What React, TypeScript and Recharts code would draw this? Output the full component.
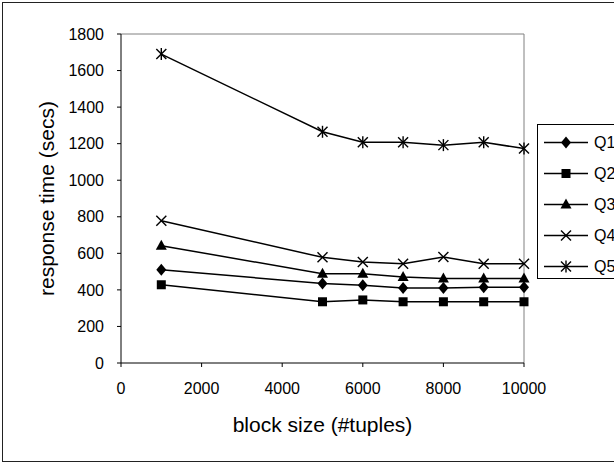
import { LineChart, Line, XAxis, YAxis, ReferenceLine, Legend } from "recharts";

const blockSizes = [1000, 5000, 6000, 7000, 8000, 9000, 10000];
const q1Times = [510, 435, 425, 410, 410, 415, 415];
const q2Times = [428, 335, 345, 335, 335, 335, 335];
const q3Times = [642, 488, 488, 470, 462, 462, 462];
const q4Times = [778, 578, 553, 543, 580, 543, 543];
const q5Times = [1690, 1265, 1208, 1208, 1192, 1208, 1173];

const xTicks = [0, 2000, 4000, 6000, 8000, 10000];
const yTicks = [0, 200, 400, 600, 800, 1000, 1200, 1400, 1600, 1800];

type Shape = "diamond" | "square" | "triangle" | "cross" | "asterisk";

const series: { key: string; name: string; values: number[]; shape: Shape }[] = [
  { key: "q1", name: "Q1", values: q1Times, shape: "diamond" },
  { key: "q2", name: "Q2", values: q2Times, shape: "square" },
  { key: "q3", name: "Q3", values: q3Times, shape: "triangle" },
  { key: "q4", name: "Q4", values: q4Times, shape: "cross" },
  { key: "q5", name: "Q5", values: q5Times, shape: "asterisk" },
];

const data = blockSizes.map((b, i) => {
  const row: Record<string, number> = { blockSize: b };
  series.forEach((s) => (row[s.key] = s.values[i]));
  return row;
});

const FONT = "'Liberation Sans', Arial, sans-serif";

const SeriesMarker = ({ shape, cx, cy }: { shape: Shape; cx: number; cy: number }) => {
  if (cx == null || cy == null) return null;
  switch (shape) {
    case "diamond":
      return <polygon points={`${cx},${cy - 6} ${cx + 5},${cy} ${cx},${cy + 6} ${cx - 5},${cy}`} fill="#000" />;
    case "square":
      return <rect x={cx - 4.5} y={cy - 4.5} width={9} height={9} fill="#000" />;
    case "triangle":
      return <polygon points={`${cx},${cy - 6} ${cx + 5.5},${cy + 4} ${cx - 5.5},${cy + 4}`} fill="#000" />;
    case "cross":
      return (
        <g stroke="#000" strokeWidth={1.4}>
          <line x1={cx - 5} y1={cy - 5} x2={cx + 5} y2={cy + 5} />
          <line x1={cx - 5} y1={cy + 5} x2={cx + 5} y2={cy - 5} />
        </g>
      );
    default:
      return (
        <g stroke="#000" strokeWidth={1.4}>
          <line x1={cx - 5} y1={cy - 5} x2={cx + 5} y2={cy + 5} />
          <line x1={cx - 5} y1={cy + 5} x2={cx + 5} y2={cy - 5} />
          <line x1={cx} y1={cy - 6} x2={cx} y2={cy + 6} />
        </g>
      );
  }
};

// legend box runs past the right edge of the picture, like the original
const LegendBox = () => (
  <div
    style={{
      width: 110,
      height: 155,
      boxSizing: "border-box",
      border: "1px solid #000",
      background: "#fff",
      paddingTop: 2,
    }}
  >
    {series.map((s) => (
      <div key={s.key} style={{ height: 31, display: "flex", alignItems: "center" }}>
        <svg width={52} height={31} style={{ display: "block" }}>
          <line x1={6} y1={15.5} x2={50} y2={15.5} stroke="#000" strokeWidth={1.5} />
          <SeriesMarker shape={s.shape} cx={28} cy={15.5} />
        </svg>
        <span style={{ fontSize: 16, fontFamily: FONT, color: "#000", marginLeft: 4 }}>{s.name}</span>
      </div>
    ))}
  </div>
);

export default function App() {
  return (
    <div
      style={{
        position: "absolute",
        left: 0,
        top: 0,
        width: 614,
        height: 463,
        overflow: "hidden",
        background: "#fff",
      }}
    >
      <div
        style={{
          position: "absolute",
          left: 2,
          top: 2,
          width: 630,
          height: 460,
          boxSizing: "border-box",
          border: "1px solid #222",
        }}
      />
      <LineChart
        width={614}
        height={463}
        data={data}
        margin={{ top: 34, right: 90, left: 31, bottom: 25 }}
        style={{ fontFamily: FONT }}
      >
        <XAxis
          dataKey="blockSize"
          type="number"
          domain={[0, 10000]}
          ticks={xTicks}
          height={75}
          tickSize={4}
          tickMargin={16}
          stroke="#000"
          tick={{ fill: "#000", fontSize: 16, fontFamily: FONT }}
          label={{
            value: "block size (#tuples)",
            position: "insideBottom",
            offset: 6,
            style: { fill: "#000", fontSize: 21, fontFamily: FONT },
          }}
        />
        <YAxis
          type="number"
          domain={[0, 1800]}
          ticks={yTicks}
          width={90}
          tickSize={4}
          tickMargin={13}
          stroke="#000"
          tick={{ fill: "#000", fontSize: 16, fontFamily: FONT }}
          label={{
            value: "response time (secs)",
            angle: -90,
            position: "insideLeft",
            offset: 16,
            style: { fill: "#000", fontSize: 21, fontFamily: FONT, textAnchor: "middle" },
          }}
        />
        <ReferenceLine y={1800} stroke="#808080" strokeWidth={1} />
        <ReferenceLine x={10000} stroke="#808080" strokeWidth={1} />
        {series.map((s) => (
          <Line
            key={s.key}
            dataKey={s.key}
            name={s.name}
            stroke="#000"
            strokeWidth={1.5}
            isAnimationActive={false}
            activeDot={false}
            dot={(p: any) => <SeriesMarker key={`${s.key}-${p.index}`} shape={s.shape} cx={p.cx} cy={p.cy} />}
          />
        ))}
        <Legend
          layout="vertical"
          align="center"
          verticalAlign="middle"
          content={() => <LegendBox />}
          wrapperStyle={{ left: 537, top: 124, width: 110, height: 155 }}
        />
      </LineChart>
    </div>
  );
}
